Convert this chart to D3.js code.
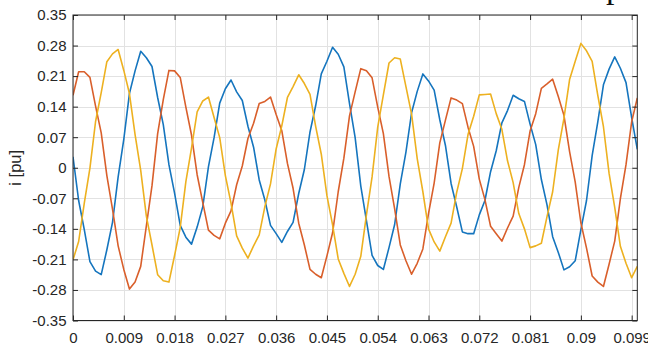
<!DOCTYPE html>
<html>
<head>
<meta charset="utf-8">
<script src="https://cdn.jsdelivr.net/npm/d3@7/dist/d3.min.js"></script>
<style>
  html, body { margin: 0; padding: 0; background: #fff; }
  svg { display: block; }
  .tick text { font-family: "Liberation Sans", Arial, sans-serif; }
</style>
</head>
<body>
<script>
// Three-phase current samples, one every 1 ms from t = 0 to t = 0.1 s
const sampleStep = 0.001;

const phaseA = [
  0.025, -0.075, -0.142, -0.215, -0.237, -0.245, -0.188, -0.125, -0.021, 0.065,
  0.170, 0.222, 0.267, 0.252, 0.232, 0.161, 0.099, 0.007, -0.058, -0.132,
  -0.159, -0.175, -0.136, -0.089, 0.002, 0.069, 0.148, 0.181, 0.201, 0.174,
  0.154, 0.095, 0.047, -0.028, -0.074, -0.132, -0.151, -0.171, -0.146, -0.125,
  -0.059, -0.004, 0.082, 0.142, 0.215, 0.244, 0.276, 0.260, 0.231, 0.147,
  0.069, -0.042, -0.121, -0.201, -0.224, -0.233, -0.183, -0.130, -0.037, 0.036,
  0.126, 0.175, 0.215, 0.199, 0.178, 0.110, 0.051, -0.036, -0.090, -0.147,
  -0.151, -0.151, -0.108, -0.075, -0.009, 0.039, 0.103, 0.131, 0.166, 0.158,
  0.152, 0.100, 0.053, -0.027, -0.085, -0.158, -0.194, -0.234, -0.227, -0.213,
  -0.142, -0.075, 0.028, 0.105, 0.190, 0.226, 0.254, 0.228, 0.195, 0.115,
  0.042
];

const phaseB = [
  0.166, 0.220, 0.220, 0.207, 0.141, 0.080, -0.018, -0.095, -0.179, -0.233,
  -0.278, -0.262, -0.226, -0.133, -0.041, 0.078, 0.156, 0.223, 0.222, 0.207,
  0.139, 0.075, -0.016, -0.080, -0.143, -0.155, -0.163, -0.127, -0.099, -0.039,
  0.004, 0.067, 0.102, 0.147, 0.152, 0.162, 0.122, 0.085, 0.010, -0.047,
  -0.127, -0.177, -0.233, -0.244, -0.252, -0.202, -0.149, -0.055, 0.022, 0.119,
  0.174, 0.227, 0.222, 0.206, 0.139, 0.078, -0.020, -0.094, -0.177, -0.213,
  -0.244, -0.219, -0.186, -0.105, -0.035, 0.057, 0.109, 0.160, 0.155, 0.147,
  0.093, 0.049, -0.026, -0.073, -0.134, -0.151, -0.168, -0.138, -0.111, -0.045,
  0.007, 0.084, 0.124, 0.182, 0.192, 0.203, 0.163, 0.120, 0.037, -0.033,
  -0.126, -0.184, -0.248, -0.262, -0.272, -0.221, -0.168, -0.071, 0.007, 0.105,
  0.160
];

const phaseC = [
  -0.211, -0.169, -0.081, -0.001, 0.106, 0.172, 0.243, 0.261, 0.271, 0.223,
  0.170, 0.076, -0.006, -0.111, -0.177, -0.245, -0.259, -0.262, -0.201, -0.137,
  -0.032, 0.045, 0.128, 0.153, 0.162, 0.115, 0.069, -0.018, -0.081, -0.156,
  -0.184, -0.207, -0.179, -0.154, -0.089, -0.037, 0.043, 0.096, 0.161, 0.186,
  0.213, 0.193, 0.168, 0.095, 0.031, -0.064, -0.131, -0.209, -0.242, -0.272,
  -0.244, -0.203, -0.108, -0.021, 0.093, 0.167, 0.240, 0.252, 0.249, 0.186,
  0.123, 0.021, -0.055, -0.140, -0.170, -0.191, -0.158, -0.127, -0.056, -0.002,
  0.076, 0.118, 0.167, 0.168, 0.169, 0.124, 0.088, 0.016, -0.034, -0.105,
  -0.140, -0.183, -0.179, -0.173, -0.112, -0.055, 0.041, 0.113, 0.202, 0.244,
  0.285, 0.268, 0.244, 0.166, 0.094, -0.013, -0.091, -0.180, -0.219, -0.252,
  -0.226
];

const xTickValues = [0, 0.009, 0.018, 0.027, 0.036, 0.045, 0.054, 0.063, 0.072, 0.081, 0.09, 0.099];
const xTickLabels = ["0", "0.009", "0.018", "0.027", "0.036", "0.045", "0.054", "0.063", "0.072", "0.081", "0.09", "0.099"];
const yTickValues = [-0.35, -0.28, -0.21, -0.14, -0.07, 0, 0.07, 0.14, 0.21, 0.28, 0.35];
const yTickLabels = ["-0.35", "-0.28", "-0.21", "-0.14", "-0.07", "0", "0.07", "0.14", "0.21", "0.28", "0.35"];

const seriesColors = ["#1575BE", "#D95F2B", "#EDB120"];
const yLabel = "i [pu]";

const W = 648, H = 345;
const plot = { left: 73, top: 15, right: 637.3, bottom: 320.5 };
const axisColor = "#262626";
const gridColor = "#e2e2e2";
const fontSize = 15;

const svg = d3.select("body").append("svg")
  .attr("width", W).attr("height", H);

const x = d3.scaleLinear().domain([0, 0.1]).range([plot.left, plot.right]);
const y = d3.scaleLinear().domain([-0.35, 0.35]).range([plot.bottom, plot.top]);

// grid
const grid = svg.append("g");
grid.selectAll("line.gx").data(xTickValues).join("line")
  .attr("x1", d => Math.round(x(d)) + 0.5).attr("x2", d => Math.round(x(d)) + 0.5)
  .attr("y1", plot.top).attr("y2", plot.bottom)
  .attr("stroke", gridColor).attr("stroke-width", 1);
grid.selectAll("line.gy").data(yTickValues).join("line")
  .attr("y1", d => Math.round(y(d)) + 0.5).attr("y2", d => Math.round(y(d)) + 0.5)
  .attr("x1", plot.left).attr("x2", plot.right)
  .attr("stroke", gridColor).attr("stroke-width", 1);

// waveforms
svg.append("clipPath").attr("id", "plotClip").append("rect")
  .attr("x", plot.left).attr("y", plot.top)
  .attr("width", plot.right - plot.left).attr("height", plot.bottom - plot.top);

const line = d3.line()
  .x((d, i) => x(i * sampleStep))
  .y(d => y(d))
  .curve(d3.curveLinear);

const traces = svg.append("g").attr("clip-path", "url(#plotClip)");
[phaseA, phaseB, phaseC].forEach((values, k) => {
  traces.append("path")
    .datum(values)
    .attr("d", line)
    .attr("fill", "none")
    .attr("stroke", seriesColors[k])
    .attr("stroke-width", 1.6)
    .attr("stroke-linejoin", "round");
});

// axes with inward ticks
const styleAxis = g => {
  g.select(".domain").remove();
  g.selectAll(".tick line").attr("stroke", axisColor);
  g.selectAll(".tick text").attr("fill", axisColor).attr("font-size", fontSize);
};

svg.append("g")
  .attr("transform", `translate(0,${plot.bottom})`)
  .call(d3.axisBottom(x).tickValues(xTickValues)
    .tickFormat((d, i) => xTickLabels[i]).tickSizeInner(-5).tickSizeOuter(0).tickPadding(12))
  .call(styleAxis);

svg.append("g")
  .attr("transform", `translate(0,${plot.top})`)
  .call(d3.axisTop(x).tickValues(xTickValues).tickFormat("").tickSizeInner(-5).tickSizeOuter(0))
  .call(styleAxis);

svg.append("g")
  .attr("transform", `translate(${plot.left},0)`)
  .call(d3.axisLeft(y).tickValues(yTickValues)
    .tickFormat((d, i) => yTickLabels[i]).tickSizeInner(-5).tickSizeOuter(0).tickPadding(6.5))
  .call(styleAxis);

svg.append("g")
  .attr("transform", `translate(${plot.right},0)`)
  .call(d3.axisRight(y).tickValues(yTickValues).tickFormat("").tickSizeInner(-5).tickSizeOuter(0))
  .call(styleAxis);

// frame
svg.append("rect")
  .attr("x", plot.left).attr("y", plot.top)
  .attr("width", plot.right - plot.left).attr("height", plot.bottom - plot.top)
  .attr("fill", "none").attr("stroke", axisColor).attr("stroke-width", 1);

// y-axis label
svg.append("text")
  .attr("transform", `translate(21,${(plot.top + plot.bottom) / 2}) rotate(-90)`)
  .attr("text-anchor", "middle")
  .attr("font-family", "'Liberation Sans', Arial, sans-serif")
  .attr("font-size", 16.5)
  .attr("fill", axisColor)
  .text(yLabel);

// descender of a letter from the surrounding page text
svg.append("text")
  .attr("x", 606).attr("y", -2)
  .attr("font-family", "'Liberation Serif', 'Times New Roman', serif")
  .attr("font-size", 34)
  .attr("fill", "#111")
  .text("p");
</script>
</body>
</html>
